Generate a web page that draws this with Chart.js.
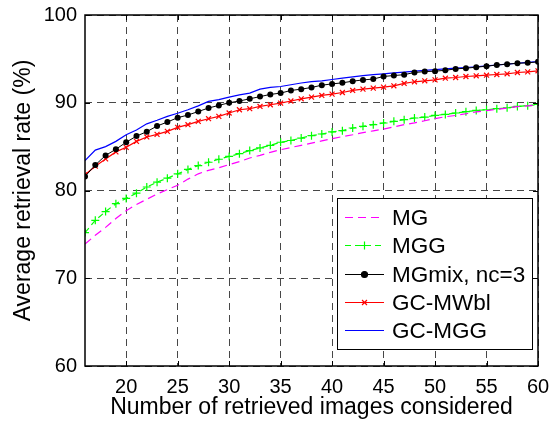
<!DOCTYPE html>
<html>
<head>
<meta charset="utf-8">
<script src="https://cdn.jsdelivr.net/npm/chart.js@4/dist/chart.umd.min.js"></script>
<style>
  html, body { margin: 0; padding: 0; background: #fff; }
  #c { display: block; }
</style>
</head>
<body>
<canvas id="c" width="560" height="421"></canvas>
<script>
// ---- data ----
const imagesConsidered = [16,17,18,19,20,21,22,23,24,25,26,27,28,29,30,31,32,33,34,35,36,37,38,
  39,40,41,42,43,44,45,46,47,48,49,50,51,52,53,54,55,56,57,58,59,60];

const seriesMG = [73.9,74.9,75.8,76.8,77.7,78.4,79.0,79.6,80.1,80.6,81.3,81.9,82.3,82.6,82.95,83.3,83.7,84.0,84.35,84.65,
  84.9,85.15,85.4,85.65,85.9,86.15,86.35,86.6,86.8,87.0,87.25,87.5,87.7,87.95,88.2,88.4,88.55,88.75,88.95,89.1,
  89.25,89.4,89.55,89.65,89.75];

const seriesMGG = [75.2,76.6,77.6,78.5,79.1,79.7,80.4,80.95,81.4,81.9,82.4,82.84,83.22,83.56,83.88,84.2,84.55,84.85,85.15,85.5,
  85.7,85.98,86.25,86.44,86.67,86.82,87.12,87.31,87.5,87.69,87.88,88.07,88.26,88.37,88.56,88.67,88.83,88.98,89.13,89.2,
  89.32,89.43,89.58,89.66,89.8];

const seriesMGmix = [81.6,82.9,84.0,84.7,85.5,86.2,86.7,87.35,87.8,88.3,88.6,89.0,89.4,89.7,90.0,90.2,90.45,90.7,90.95,91.1,
  91.4,91.55,91.74,92.0,92.15,92.27,92.46,92.6,92.7,93.0,93.1,93.2,93.45,93.55,93.6,93.7,93.86,93.94,94.05,94.17,
  94.3,94.4,94.5,94.55,94.66];

const seriesGCMWbl = [81.8,82.77,83.6,84.4,84.92,85.6,86.1,86.4,86.74,87.2,87.5,87.88,88.18,88.45,88.83,89.2,89.32,89.58,89.77,89.96,
  90.2,90.45,90.64,90.83,90.98,91.17,91.4,91.55,91.67,91.78,91.93,92.2,92.39,92.5,92.61,92.8,92.88,92.99,93.07,93.14,
  93.22,93.3,93.45,93.52,93.64];

const seriesGCMGG = [83.4,84.6,85.0,85.6,86.35,86.9,87.6,88.0,88.45,88.8,89.2,89.65,90.15,90.35,90.65,90.9,91.1,91.55,91.75,91.85,
  92.05,92.25,92.4,92.5,92.65,92.8,92.95,93.1,93.2,93.3,93.4,93.5,93.6,93.7,93.78,93.86,93.94,94.02,94.1,94.2,
  94.3,94.4,94.5,94.6,94.7];

const seriesLabels = ['MG', 'MGG', 'MGmix, nc=3', 'GC-MWbl', 'GC-MGG'];
const xTickValues = [20, 25, 30, 35, 40, 45, 50, 55, 60];
const yTickValues = [60, 70, 80, 90, 100];
const xAxisTitle = 'Number of retrieved images considered';
const yAxisTitle = 'Average retrieval rate (%)';

// ---- build datasets ----
const toPts = arr => imagesConsidered.map((x, i) => ({ x: x, y: arr[i] }));
const FONT = '"Liberation Sans", Arial, Helvetica, sans-serif';

const datasets = [
  { label: seriesLabels[0], data: toPts(seriesMG), borderColor: '#ff00ff', backgroundColor: '#ff00ff',
    borderWidth: 1.2, borderDash: [8, 5], pointRadius: 0, pointStyle: false },
  { label: seriesLabels[1], data: toPts(seriesMGG), borderColor: '#00ff00', backgroundColor: '#00ff00',
    borderWidth: 1.2, borderDash: [6, 4], pointStyle: 'cross', pointRadius: 4, pointBorderWidth: 1.2 },
  { label: seriesLabels[2], data: toPts(seriesMGmix), borderColor: '#000000', backgroundColor: '#000000',
    borderWidth: 1, pointStyle: 'circle', pointRadius: 3, pointBorderWidth: 0 },
  { label: seriesLabels[3], data: toPts(seriesGCMWbl), borderColor: '#ff0000', backgroundColor: '#ff0000',
    borderWidth: 1.2, pointStyle: 'crossRot', pointRadius: 3.5, pointBorderWidth: 1.2 },
  { label: seriesLabels[4], data: toPts(seriesGCMGG), borderColor: '#0000ff', backgroundColor: '#0000ff',
    borderWidth: 1.2, pointRadius: 0, pointStyle: false }
];

// frame, inward tick marks and in-plot legend (MATLAB style)
const matlabDecor = {
  id: 'matlabDecor',
  afterDatasetsDraw(chart) {
    const ctx = chart.ctx;
    const a = chart.chartArea;
    const xs = chart.scales.x, ys = chart.scales.y;
    ctx.save();
    ctx.strokeStyle = '#000';
    ctx.lineWidth = 1;
    ctx.beginPath();
    xTickValues.forEach(v => {
      const px = Math.round(xs.getPixelForValue(v)) + 0.5;
      ctx.moveTo(px, a.bottom); ctx.lineTo(px, a.bottom - 5);
      ctx.moveTo(px, a.top); ctx.lineTo(px, a.top + 5);
    });
    yTickValues.forEach(v => {
      const py = Math.round(ys.getPixelForValue(v)) + 0.5;
      ctx.moveTo(a.left, py); ctx.lineTo(a.left + 5, py);
      ctx.moveTo(a.right, py); ctx.lineTo(a.right - 5, py);
    });
    ctx.stroke();
    ctx.lineWidth = 1.5;
    ctx.strokeRect(a.left, a.top, a.right - a.left, a.bottom - a.top);
    ctx.restore();
  },
  afterDraw(chart) {
    const ctx = chart.ctx;
    const bx = 337, by = 198, bw = 195, bh = 151;
    ctx.save();
    ctx.fillStyle = '#fff';
    ctx.fillRect(bx, by, bw, bh);
    ctx.strokeStyle = '#000';
    ctx.lineWidth = 1;
    ctx.strokeRect(bx + 0.5, by + 0.5, bw, bh);
    ctx.font = '22.5px ' + FONT;
    ctx.textBaseline = 'middle';
    ctx.textAlign = 'left';
    chart.data.datasets.forEach((ds, i) => {
      const y = Math.round(by + 19 + i * 28.3) + 0.5;
      ctx.strokeStyle = ds.borderColor;
      ctx.lineWidth = 1.2;
      ctx.setLineDash(ds.borderDash || []);
      ctx.beginPath();
      ctx.moveTo(345, y); ctx.lineTo(384, y);
      ctx.stroke();
      ctx.setLineDash([]);
      if (ds.pointStyle && ds.pointRadius > 0) {
        ctx.fillStyle = ds.backgroundColor;
        ctx.strokeStyle = ds.borderColor;
        ctx.lineWidth = 1.2;
        Chart.helpers.drawPoint(ctx, {
          pointStyle: ds.pointStyle, radius: ds.pointRadius, rotation: 0,
          borderWidth: ds.pointBorderWidth || 1
        }, 364.5, y);
      }
      ctx.fillStyle = '#000';
      ctx.fillText(ds.label, 392, y + 1);
    });
    ctx.restore();
  }
};

const gridColor = 'rgba(0,0,0,0.72)';

new Chart(document.getElementById('c'), {
  type: 'line',
  data: { datasets: datasets },
  options: {
    responsive: false,
    devicePixelRatio: 1,
    animation: false,
    layout: { padding: { top: 15, right: 22, left: 0, bottom: 0 } },
    plugins: { legend: { display: false }, tooltip: { enabled: false } },
    elements: { line: { tension: 0 } },
    scales: {
      x: {
        type: 'linear', min: 16, max: 60,
        afterBuildTicks: s => { s.ticks = xTickValues.map(v => ({ value: v })); },
        afterFit: s => { s.height = 55; s.paddingLeft = 0; s.paddingRight = 0; },
        grid: { color: gridColor, lineWidth: 1, drawTicks: false },
        border: { display: false, dash: [7, 5] },
        ticks: { color: '#000', font: { family: FONT, size: 20 }, padding: 9, maxRotation: 0, autoSkip: false },
        title: { display: true, text: xAxisTitle, color: '#000', font: { family: FONT, size: 23 }, padding: { top: 0, bottom: 0 } }
      },
      y: {
        type: 'linear', min: 60, max: 100,
        afterBuildTicks: s => { s.ticks = yTickValues.map(v => ({ value: v })); },
        afterFit: s => { s.width = 85; s.paddingTop = 0; s.paddingBottom = 0; },
        grid: { color: gridColor, lineWidth: 1, drawTicks: false },
        border: { display: false, dash: [7, 5] },
        ticks: { color: '#000', font: { family: FONT, size: 20 }, padding: 8 },
        title: { display: true, text: yAxisTitle, color: '#000', font: { family: FONT, size: 23 }, padding: { top: 10, bottom: 0 } }
      }
    }
  },
  plugins: [matlabDecor]
});
</script>
</body>
</html>
